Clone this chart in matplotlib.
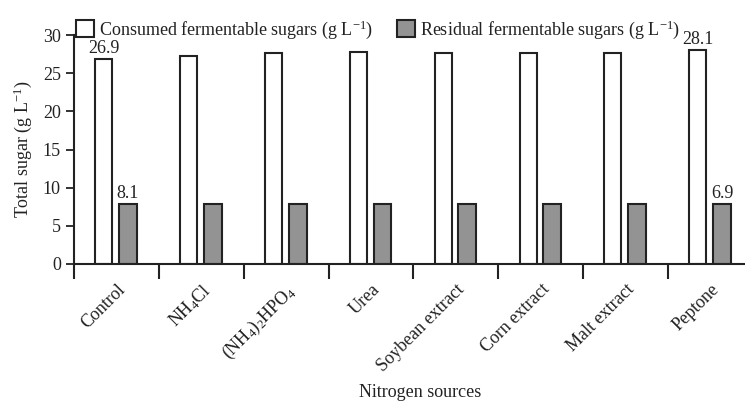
import numpy as np
import matplotlib
matplotlib.use('Agg')
import matplotlib.pyplot as plt

plt.rcParams['font.family'] = ['Liberation Serif', 'DejaVu Serif']
plt.rcParams['mathtext.fontset'] = 'custom'
plt.rcParams['mathtext.rm'] = 'Liberation Serif'
plt.rcParams['mathtext.it'] = 'Liberation Serif:italic'

# データ
categories = ['Control', r'NH$_4$Cl', r'(NH$_4$)$_2$HPO$_4$', 'Urea',
              'Soybean extract', 'Corn extract', 'Malt extract', 'Peptone']
consumed = [26.8, 27.3, 27.6, 27.8, 27.6, 27.7, 27.7, 28.0]
residual = [7.8, 7.8, 7.8, 7.8, 7.8, 7.8, 7.8, 7.8]
consumed_labels = ['26.9', '', '', '', '', '', '', '28.1']
residual_labels = ['8.1', '', '', '', '', '', '', '6.9']
y_ticks = [0, 5, 10, 15, 20, 25, 30]

FS = 13
TXT = '#222222'

fig = plt.figure(figsize=(7.45, 4.03), dpi=100)
ax = fig.add_axes([0.0993, 0.345, 0.9114, 0.568])

x = np.arange(len(categories))
b1 = ax.bar(x + 0.35, consumed, width=0.2, color='white', edgecolor=TXT,
            linewidth=1.5, label=r'Consumed fermentable sugars (g L$^{-1}$)')
b2 = ax.bar(x + 0.635, residual, width=0.21, color='#939393', edgecolor=TXT,
            linewidth=1.5, label=r'Residual fermentable sugars (g L$^{-1}$)')

for i in range(len(categories)):
    if consumed_labels[i]:
        ax.text(x[i] + 0.35, consumed[i] + 0.35, consumed_labels[i],
                ha='center', va='bottom', fontsize=FS, color=TXT)
    if residual_labels[i]:
        ax.text(x[i] + 0.635, residual[i] + 0.35, residual_labels[i],
                ha='center', va='bottom', fontsize=FS, color=TXT)

ax.set_xlim(0, len(categories))
ax.set_ylim(0, 30)
ax.set_yticks(y_ticks)
ax.tick_params(axis='y', direction='out', length=6, width=1.3, labelsize=FS,
               colors=TXT)

# カテゴリ境界の目盛り
ax.set_xticks(np.arange(len(categories) + 1))
ax.set_xticklabels([])
ax.tick_params(axis='x', which='major', direction='out', length=11, width=1.5,
               colors=TXT)
ax.set_xticks(x + 0.5, minor=True)
ax.set_xticklabels(categories, minor=True, rotation=45, ha='right',
                   rotation_mode='anchor', fontsize=FS, color=TXT)
ax.tick_params(axis='x', which='minor', length=0, pad=12)

for s in ['top', 'right']:
    ax.spines[s].set_visible(False)
for s in ['left', 'bottom']:
    ax.spines[s].set_linewidth(1.5)
    ax.spines[s].set_color(TXT)

ax.set_ylabel(r'Total sugar (g L$^{-1}$)', fontsize=FS, color=TXT, labelpad=6)
fig.text(0.564, 0.006, 'Nitrogen sources', ha='center', va='bottom',
         fontsize=FS, color=TXT)

fig.legend(handles=[b1, b2], loc='upper left', bbox_to_anchor=(0.08, 0.995),
           ncol=2, frameon=False, fontsize=13, handlelength=1.0, handleheight=1.0,
           handletextpad=0.3, columnspacing=1.3, labelcolor=TXT)

plt.savefig('out.png', dpi=100)
